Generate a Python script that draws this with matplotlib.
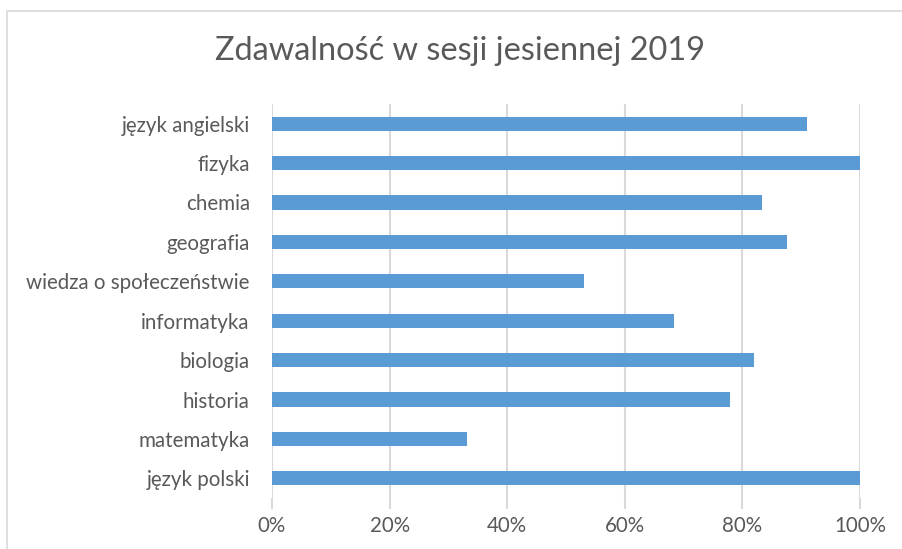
import numpy as np
import matplotlib.pyplot as plt
from matplotlib.patches import Rectangle
from matplotlib.ticker import PercentFormatter

subjects = ['język angielski', 'fizyka', 'chemia', 'geografia',
            'wiedza o społeczeństwie', 'informatyka', 'biologia',
            'historia', 'matematyka', 'język polski']
pass_rate = [0.910, 1.000, 0.833, 0.876, 0.530, 0.684, 0.820, 0.779, 0.332, 1.000]
xticks = [0, 0.2, 0.4, 0.6, 0.8, 1.0]

plt.rcParams['font.family'] = ['Lato', 'DejaVu Sans']
txt = '#595959'
grid = '#d9d9d9'

W, H = 903, 549
fig = plt.figure(figsize=(W / 100, H / 100), dpi=100)

# chart frame (Excel chart area border)
fig.patches.append(Rectangle((7 / W, -0.1), 1.1, 1 - 11 / H + 0.1, transform=fig.transFigure,
                             fill=False, edgecolor='#d9d9d9', linewidth=1.2))

ax = fig.add_axes([272 / W, (H - 498) / H, (860 - 272) / W, (498 - 104) / H])
y = np.arange(len(subjects))[::-1]
ax.barh(y, pass_rate, height=0.36, color='#5b9bd5', zorder=3)
ax.set_xlim(0, 1)
ax.set_ylim(-0.5, len(subjects) - 0.5)
ax.set_yticks(y)
ax.set_yticklabels(subjects)
ax.set_xticks(xticks)
ax.xaxis.set_major_formatter(PercentFormatter(1.0, decimals=0))
ax.grid(axis='x', color=grid, linewidth=1.5, zorder=0)
for s in ax.spines.values():
    s.set_visible(False)
ax.tick_params(axis='y', length=0, pad=16, labelsize=14.8, labelcolor=txt)
ax.tick_params(axis='x', length=8, width=1.5, color=grid, pad=5, labelsize=14.8, labelcolor=txt)

fig.text(460 / W, 1 - 51 / H, 'Zdawalność w sesji jesiennej 2019', ha='center', va='center',
         fontsize=23.4, color=txt)

fig.savefig('out.png', dpi=100)
